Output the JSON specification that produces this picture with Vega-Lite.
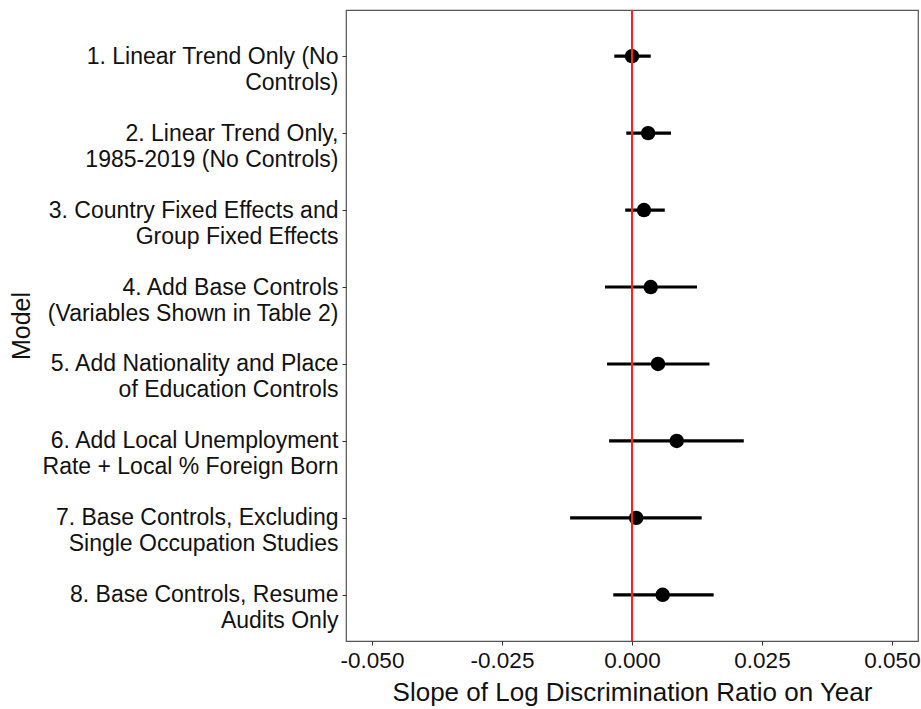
{
  "$schema": "https://vega.github.io/schema/vega-lite/v6.json",
  "autosize": "none",
  "width": 572,
  "height": 631,
  "padding": {"left": 346, "top": 10, "right": 3, "bottom": 68},
  "background": "white",
  "config": {
    "font": "Liberation Sans",
    "view": {"stroke": "#555555", "strokeWidth": 1.2},
    "axis": {
      "grid": false,
      "domain": false,
      "tickColor": "#333333",
      "tickSize": 4,
      "labelColor": "#111111",
      "titleColor": "#111111",
      "labelFont": "Liberation Sans",
      "titleFont": "Liberation Sans",
      "titleFontWeight": "normal"
    }
  },
  "data": {
    "values": [
      {"order": 1, "model": "1. Linear Trend Only (No|Controls)", "est": 0.0000, "lo": -0.0034, "hi": 0.0036},
      {"order": 2, "model": "2. Linear Trend Only,|1985-2019 (No Controls)", "est": 0.0031, "lo": -0.0011, "hi": 0.0075},
      {"order": 3, "model": "3. Country Fixed Effects and|Group Fixed Effects", "est": 0.0023, "lo": -0.0013, "hi": 0.0063},
      {"order": 4, "model": "4. Add Base Controls|(Variables Shown in Table 2)", "est": 0.0036, "lo": -0.0052, "hi": 0.0125},
      {"order": 5, "model": "5. Add Nationality and Place|of Education Controls", "est": 0.0050, "lo": -0.0048, "hi": 0.0149},
      {"order": 6, "model": "6. Add Local Unemployment|Rate + Local % Foreign Born", "est": 0.0086, "lo": -0.0044, "hi": 0.0215},
      {"order": 7, "model": "7. Base Controls, Excluding|Single Occupation Studies", "est": 0.0008, "lo": -0.0119, "hi": 0.0134},
      {"order": 8, "model": "8. Base Controls, Resume|Audits Only", "est": 0.0059, "lo": -0.0036, "hi": 0.0157}
    ]
  },
  "encoding": {
    "y": {
      "field": "model",
      "type": "nominal",
      "sort": {"field": "order", "order": "ascending"},
      "scale": {"type": "point", "padding": 0.6},
      "axis": {
        "title": "Model",
        "titleFontSize": 25,
        "titleX": -325,
        "titleBaseline": "middle",
        "labelFontSize": 23,
        "labelExpr": "split(datum.label, '|')",
        "labelLineHeight": 26,
        "labelPadding": 4,
        "labelLimit": 400
      }
    }
  },
  "layer": [
    {
      "mark": {"type": "rule", "strokeWidth": 3.2, "color": "black"},
      "encoding": {
        "x": {
          "field": "lo",
          "type": "quantitative",
          "scale": {"domain": [-0.055, 0.055], "nice": false, "zero": false},
          "axis": {
            "title": "Slope of Log Discrimination Ratio on Year",
            "titleFontSize": 26,
            "titlePadding": 8,
            "labelFontSize": 22.5,
            "labelPadding": 4,
            "values": [-0.05, -0.025, 0, 0.025, 0.05],
            "format": ".3f",
            "labelExpr": "replace(datum.label, '−', '-')",
            "labelFlush": false
          }
        },
        "x2": {"field": "hi"}
      }
    },
    {
      "mark": {"type": "circle", "size": 210, "color": "black", "opacity": 1},
      "encoding": {
        "x": {"field": "est", "type": "quantitative"}
      }
    },
    {
      "data": {"values": [{"x": 0}]},
      "mark": {"type": "rule", "color": "#ff2020", "strokeWidth": 2},
      "encoding": {
        "x": {"field": "x", "type": "quantitative"},
        "y": null
      }
    }
  ]
}
